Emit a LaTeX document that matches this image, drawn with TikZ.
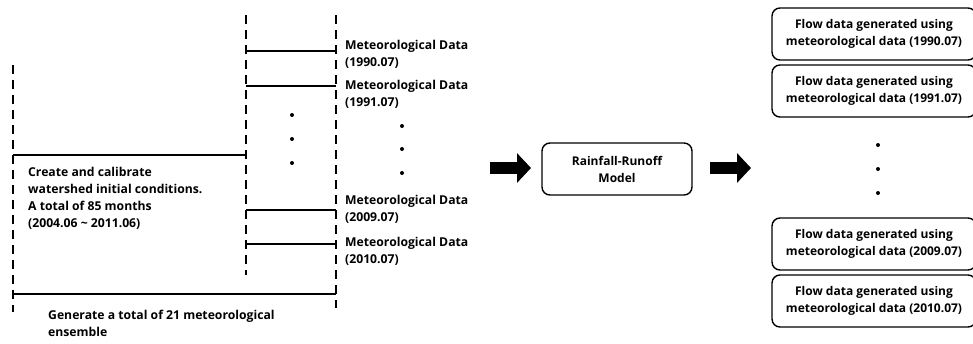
\documentclass[tikz,border=0pt]{standalone}
\usepackage{fontspec}
\setmainfont{Open Sans}
\usetikzlibrary{positioning, arrows.meta}

\begin{document}
\begin{tikzpicture}[x=1pt, y=-1pt]
\tikzstyle{txt}=[font=\fontsize{12.2}{17}\selectfont\bfseries, align=left, inner sep=0pt]
\tikzstyle{flow}=[rectangle, rounded corners=8pt, draw=black, line width=1.4pt, minimum width=204pt, minimum height=52pt, font=\fontsize{12}{17}\selectfont\bfseries, align=center]
\tikzstyle{guide}=[line width=1.2pt, dash pattern=on 9pt off 6pt]
\tikzstyle{span}=[line width=1.4pt]
\tikzstyle{dot}=[circle, fill=black, inner sep=0pt, minimum size=4pt]
\tikzstyle{fat}=[line width=12pt, -{Triangle[width=29pt, length=14pt]}]
    \useasboundingbox (0,0) rectangle (973,343);
    % dashed guides
    \coordinate (L1) at (13,65);   \coordinate (L2) at (13,312);
    \coordinate (M1) at (246,15);  \coordinate (M2) at (246,275);
    \coordinate (R1) at (336,15);  \coordinate (R2) at (336,308);
    \draw[guide] (L1) -- (L2);
    \draw[guide] (M1) -- (M2);
    \draw[guide] (R1) -- (R2);
    % spans
    \draw[span] (13,155) -- (246,155);
    \draw[span] (13,294) -- (336,294);
    \foreach \y in {51,86,210,244}
        \draw[span] (246,\y) -- (336,\y);
    \foreach \y in {115,139,163} \node[dot] at (292,\y) {};
    % texts
    \node[txt, anchor=west] (calib) at (28,198) {Create and calibrate\\watershed initial conditions.\\A total of 85 months\\(2004.06 \textasciitilde\ 2011.06)};
    \node[txt, anchor=west] (ens) at (48,323) {Generate a total of 21 meteorological\\ensemble};
    \node[txt, anchor=west] (m1) at (345,54) {Meteorological Data\\(1990.07)};
    \node[txt, anchor=west] (m2) at (345,94) {Meteorological Data\\(1991.07)};
    \node[txt, anchor=west] (m3) at (345,209) {Meteorological Data\\(2009.07)};
    \node[txt, anchor=west] (m4) at (345,251) {Meteorological Data\\(2010.07)};
    \foreach \y in {126,149,173} \node[dot] at (402,\y) {};
    % model
    \coordinate (a1) at (490,168); \coordinate (a2) at (531,168);
    \coordinate (b1) at (710,168); \coordinate (b2) at (751,168);
    \node[flow, minimum width=150pt] (model) at (617,169) {Rainfall-Runoff\\Model};
    \draw[fat] (a1) -- (a2);
    \draw[fat] (b1) -- (b2);
    % outputs
    \node[flow] (f1) at (874,34) {Flow data generated using\\meteorological data (1990.07)};
    \node[flow] (f2) at (874,91) {Flow data generated using\\meteorological data (1991.07)};
    \node[flow] (f3) at (874,244) {Flow data generated using\\meteorological data (2009.07)};
    \node[flow] (f4) at (874,301) {Flow data generated using\\meteorological data (2010.07)};
    \foreach \y in {145,169,193} \node[dot] at (878,\y) {};
\end{tikzpicture}
\end{document}
